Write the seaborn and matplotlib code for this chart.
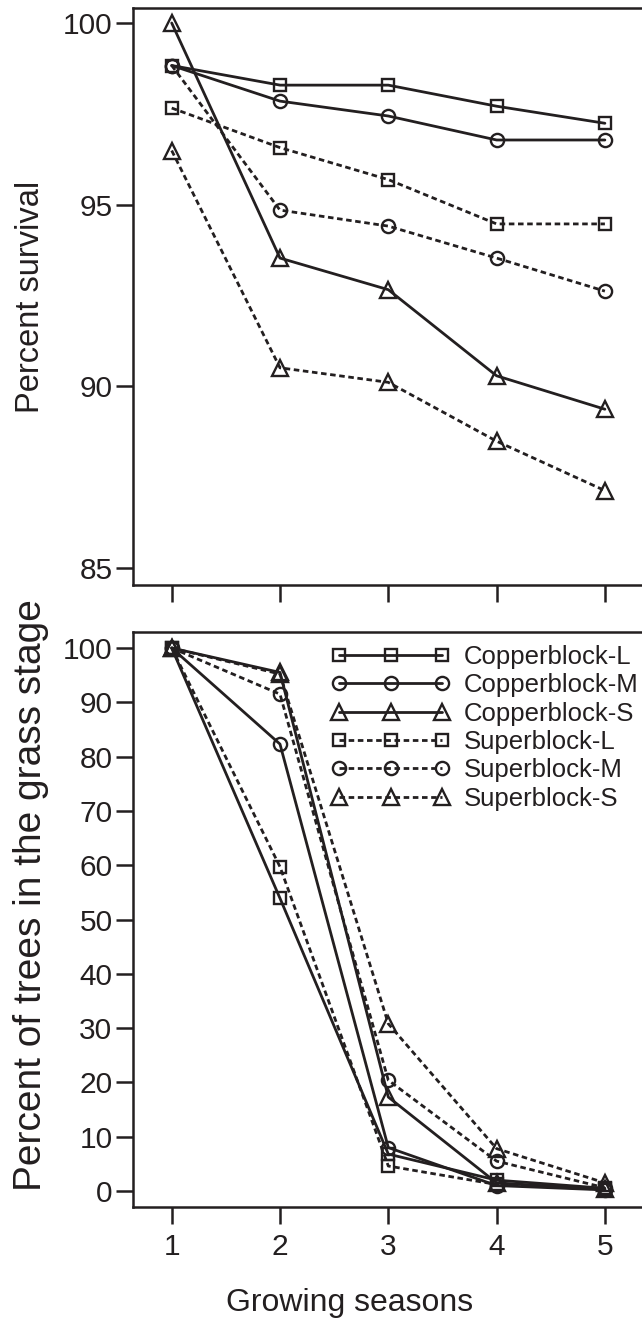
import matplotlib
matplotlib.use("Agg")
import matplotlib.pyplot as plt
import seaborn as sns
import pandas as pd

# ---------------- data ----------------
seasons = [1, 2, 3, 4, 5]
series_names = ["Copperblock-L", "Copperblock-M", "Copperblock-S",
                "Superblock-L", "Superblock-M", "Superblock-S"]

survival_CL = [98.83, 98.29, 98.29, 97.71, 97.24]
survival_CM = [98.83, 97.85, 97.44, 96.78, 96.78]
survival_CS = [100.0, 93.53, 92.66, 90.29, 89.37]
survival_SL = [97.66, 96.57, 95.69, 94.47, 94.47]
survival_SM = [98.83, 94.85, 94.41, 93.53, 92.62]
survival_SS = [96.49, 90.51, 90.11, 88.49, 87.13]

grass_CL = [100.0, 53.9, 6.8, 2.0, 0.5]
grass_CM = [100.0, 82.3, 8.0, 1.0, 0.2]
grass_CS = [100.0, 95.5, 17.3, 1.5, 0.3]
grass_SL = [100.0, 59.7, 4.6, 1.2, 0.3]
grass_SM = [100.0, 91.5, 20.4, 5.5, 0.6]
grass_SS = [100.0, 95.2, 30.8, 7.8, 1.5]

top_yticks = [85, 90, 95, 100]
bottom_yticks = [0, 10, 20, 30, 40, 50, 60, 70, 80, 90, 100]

survival = [survival_CL, survival_CM, survival_CS, survival_SL, survival_SM, survival_SS]
grass = [grass_CL, grass_CM, grass_CS, grass_SL, grass_SM, grass_SS]


def long_df(values):
    rows = []
    for name, vals in zip(series_names, values):
        for s, v in zip(seasons, vals):
            rows.append({"season": s, "value": v, "series": name})
    return pd.DataFrame(rows)


df_top = long_df(survival)
df_bot = long_df(grass)

# ---------------- style ----------------
sns.set_theme(style="ticks")
plt.rcParams["font.family"] = ["Liberation Sans", "DejaVu Sans"]
INK = "#231f20"
plt.rcParams["text.color"] = INK
plt.rcParams["axes.labelcolor"] = INK
plt.rcParams["xtick.color"] = INK
plt.rcParams["ytick.color"] = INK

dash = (2.0, 1.3)
dashes = {"Copperblock-L": "", "Copperblock-M": "", "Copperblock-S": "",
          "Superblock-L": dash, "Superblock-M": dash, "Superblock-S": dash}
markers = {"Copperblock-L": "s", "Copperblock-M": "o", "Copperblock-S": "^",
           "Superblock-L": "s", "Superblock-M": "o", "Superblock-S": "^"}
msizes = {"s": 8.5, "o": 9.5, "^": 11}
palette = {n: INK for n in series_names}

fig = plt.figure(figsize=(6.42, 13.36), dpi=100)
W, H = 642.0, 1336.0
left_px, right_px = 133.3, 648.0
ax1 = fig.add_axes([left_px / W, 1 - 585 / H, (right_px - left_px) / W, (585 - 8) / H])
ax2 = fig.add_axes([left_px / W, 1 - 1207 / H, (right_px - left_px) / W, (1207 - 632) / H])

for ax, df in ((ax1, df_top), (ax2, df_bot)):
    sns.lineplot(data=df, x="season", y="value", hue="series", style="series",
                 hue_order=series_names, style_order=series_names,
                 palette=palette, dashes=dashes, markers=markers,
                 legend=False, ax=ax, lw=2.0, mfc="none", mec=INK, mew=1.7,
                 clip_on=False)
    for line, name in zip(ax.lines, series_names):
        line.set_markersize(msizes[markers[name]])
        line.set_label(name)
    for sp in ax.spines.values():
        sp.set_linewidth(1.8)
        sp.set_color(INK)
    ax.tick_params(axis="both", length=12.5, width=1.8, labelsize=21.5, pad=2.5,
                   direction="out")
    ax.tick_params(axis="x", pad=6)
    ax.set_xticks(seasons)
    ax.set_xlim(1 - 38.4 / 108.3, 1 + (right_px - 171.7) / 108.3)

ax1.set_ylim(85 - 17 / 36.33, 100 + 15 / 36.33)
ax1.set_yticks(top_yticks)
ax1.set_yticklabels([str(t) for t in top_yticks])
ax1.set_xticklabels([])
ax1.set_xlabel("")
ax1.set_ylabel("Percent survival", fontsize=23.5)
ax1.yaxis.set_label_coords(-0.17, 0.5)

ax2.set_ylim(0 - 16 / 5.43, 100 + 16 / 5.43)
ax2.set_yticks(bottom_yticks)
ax2.set_yticklabels([str(t) for t in bottom_yticks])
ax2.set_xticklabels([str(s) for s in seasons])
ax2.set_xlabel("Growing seasons", fontsize=23)
ax2.xaxis.set_label_coords(0.421, -0.141)
ax2.set_ylabel("Percent of trees in the grass stage", fontsize=28)
ax2.yaxis.set_label_coords(-0.163, 0.543)

leg = ax2.legend(handles=ax2.lines[:6], labels=series_names, loc="upper left",
                 bbox_to_anchor=(331.7 / W, 1 - 645 / H), bbox_transform=fig.transFigure,
                 frameon=False, numpoints=3, handlelength=4.6, handletextpad=0.55,
                 labelspacing=0.17, borderpad=0, borderaxespad=0, fontsize=18.5)

fig.savefig("out.png", dpi=100)
